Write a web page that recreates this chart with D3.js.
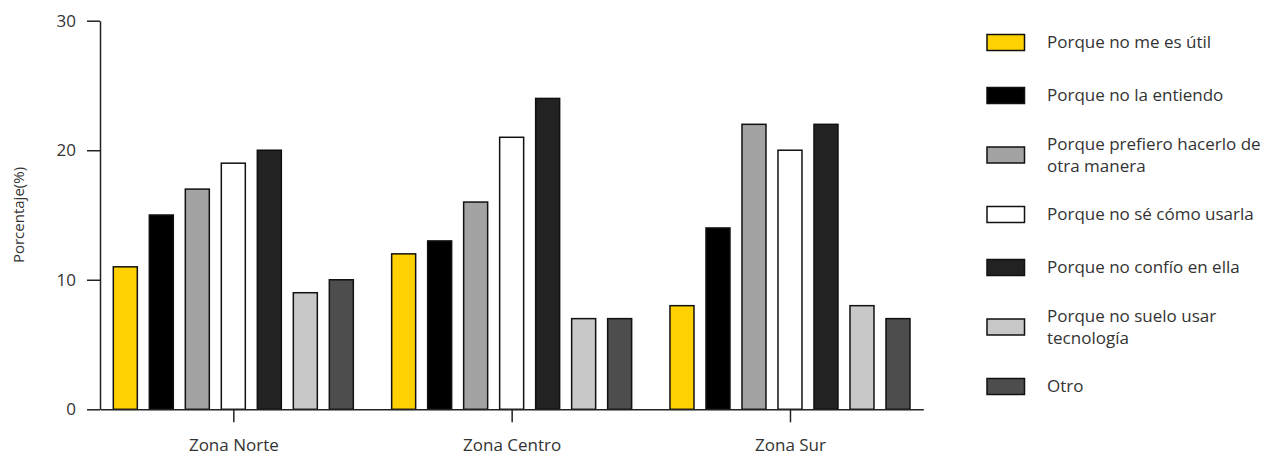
<!DOCTYPE html>
<html>
<head>
<meta charset="utf-8">
<script src="https://cdn.jsdelivr.net/npm/d3@7"></script>
<style>
  html, body { margin: 0; padding: 0; background: #fff; }
  svg { display: block; font-family: "Open Sans", Lato, sans-serif; }
</style>
</head>
<body>
<svg id="chart" width="1275" height="456"></svg>
<script>
const zones = ["Zona Norte", "Zona Centro", "Zona Sur"];
const reasons = [
  "Porque no me es útil",
  "Porque no la entiendo",
  "Porque prefiero hacerlo de otra manera",
  "Porque no sé cómo usarla",
  "Porque no confío en ella",
  "Porque no suelo usar tecnología",
  "Otro"
];
const legendLines = [
  ["Porque no me es útil"],
  ["Porque no la entiendo"],
  ["Porque prefiero hacerlo de", "otra manera"],
  ["Porque no sé cómo usarla"],
  ["Porque no confío en ella"],
  ["Porque no suelo usar", "tecnología"],
  ["Otro"]
];
const colors = ["#FFD100", "#000000", "#A3A3A3", "#FFFFFF", "#222222", "#C8C8C8", "#4D4D4D"];
const zonaNorte  = [11, 15, 17, 19, 20, 9, 10];
const zonaCentro = [12, 13, 16, 21, 24, 7, 7];
const zonaSur    = [8, 14, 22, 20, 22, 8, 7];
const yTicks = [0, 10, 20, 30];
const yLabel = "Porcentaje(%)";

const seriesByZone = [zonaNorte, zonaCentro, zonaSur];

const svg = d3.select("#chart");
const mLeft = 100, mRight = 923.3, mTop = 20.7, mBottom = 409.3;

const x0 = d3.scalePoint().domain(zones).range([mLeft, mRight]).padding(0.479);
const x1 = d3.scaleBand().domain(reasons).range([-120, 120]).paddingInner(1/3).paddingOuter(0);
const y = d3.scaleLinear().domain([0, 30]).range([mBottom, mTop]);

// bars
const groups = svg.append("g").selectAll("g")
  .data(zones)
  .join("g")
  .attr("transform", d => `translate(${x0(d)},0)`);

groups.selectAll("rect")
  .data((z, i) => reasons.map((r, j) => ({ r, v: seriesByZone[i][j], c: colors[j] })))
  .join("rect")
  .attr("x", d => x1(d.r))
  .attr("width", x1.bandwidth())
  .attr("y", d => y(d.v))
  .attr("height", d => y(0) - y(d.v))
  .attr("fill", d => d.c)
  .attr("stroke", "#111")
  .attr("stroke-width", 1.5);

// axes
const xAxis = svg.append("g")
  .attr("transform", `translate(0,${mBottom})`)
  .call(d3.axisBottom(x0).tickSize(13).tickSizeOuter(0).tickPadding(17));
const yAxis = svg.append("g")
  .attr("transform", `translate(${mLeft},0)`)
  .call(d3.axisLeft(y).tickValues(yTicks).tickSize(13).tickSizeOuter(0).tickPadding(11));

[xAxis, yAxis].forEach(a => {
  a.select(".domain").attr("stroke", "#222").attr("stroke-width", 1.5);
  a.selectAll(".tick line").attr("stroke", "#222").attr("stroke-width", 1.5);
  a.selectAll(".tick text").attr("fill", "#333").style("font-size", "17px")
    .style("font-family", "'Open Sans', Lato, sans-serif");
});

svg.append("text")
  .attr("transform", `translate(24,${(mTop + mBottom) / 2}) rotate(-90)`)
  .attr("text-anchor", "middle")
  .attr("fill", "#333")
  .style("font-size", "15px")
  .text(yLabel);

// legend
let cy = 42.5;
const centers = [];
legendLines.forEach((lines, i) => {
  if (i > 0) {
    cy += 53 + 6.5 * ((legendLines[i - 1].length - 1) + (lines.length - 1));
  }
  centers.push(cy);
});

const leg = svg.append("g").selectAll("g")
  .data(reasons)
  .join("g")
  .attr("transform", (d, i) => `translate(987,${centers[i]})`);

leg.append("rect")
  .attr("x", 0).attr("y", -8)
  .attr("width", 37.5).attr("height", 16)
  .attr("fill", (d, i) => colors[i])
  .attr("stroke", "#111").attr("stroke-width", 1.5);

leg.each(function(d, i) {
  const lines = legendLines[i];
  const t = d3.select(this).append("text")
    .attr("x", 60)
    .attr("fill", "#333")
    .style("font-size", "17px");
  lines.forEach((ln, k) => {
    const off = (k - (lines.length - 1) / 2) * 22;
    t.append("tspan").attr("x", 60).attr("y", off).attr("dy", "0.35em").text(ln);
  });
});
</script>
</body>
</html>
